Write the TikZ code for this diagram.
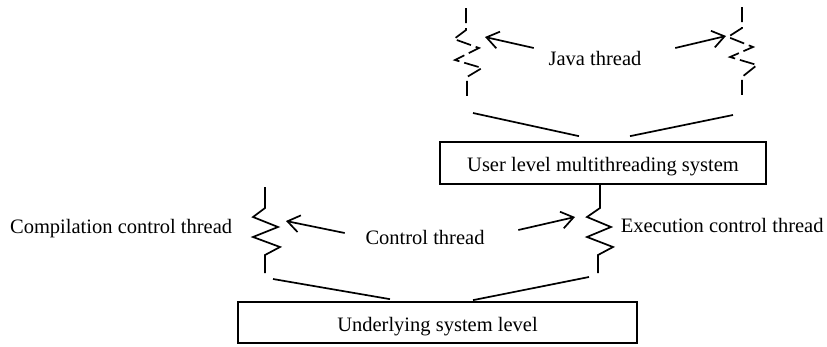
\documentclass[tikz,border=0pt]{standalone}
\usepackage{fontspec}
\setmainfont{Liberation Serif}
\usetikzlibrary{arrows.meta}

\begin{document}
\begin{tikzpicture}[x=1pt,y=-1pt,line width=1.7pt,
  lbl/.style={inner sep=0pt,font=\fontsize{20.5}{24}\selectfont},
  sysbox/.style={draw,lbl,text height=18pt,text depth=0.6pt},
  ptr/.style={-{Straight Barb[length=12pt,width=17pt]}},
  jdash/.style={dash pattern=on 15pt off 5pt}]
\useasboundingbox (0,0) rectangle (827,346);
% boxes
\node [sysbox,minimum width=326pt,minimum height=42pt] (uls) at (603,163) {User level multithreading system};
\node [sysbox,minimum width=399pt,minimum height=41pt] (usl) at (437.5,322.5) {Underlying system level};
% java threads
\draw [jdash] (466,8) -- (466,30) -- (454,39) coordinate (jl-tip) -- (479,48) -- (455,60) -- (482,68) -- (467,77) -- (467,97) coordinate (jl-end);
\draw [jdash] (742,7) -- (742,28) -- (728,37) coordinate (jr-tip) -- (753,47) -- (730,57) -- (757,65) -- (742,77) -- (742,95) coordinate (jr-end);
% control threads
\draw (265,187) -- (265,208) -- (253,217) -- (278,227) coordinate (cl-tip) -- (253,237) -- (280,247) -- (265,255) -- (265,273) coordinate (cl-end);
\draw (uls.south -| 600,0) -- (600,208) -- (587,217) coordinate (cr-tip) -- (611,227) -- (587,237) -- (613,247) -- (598,255) -- (598,273) coordinate (cr-end);
% labels
\node [lbl,anchor=base] (jt) at (595,65) {Java thread};
\node [lbl,anchor=base] (ct) at (425,244) {Control thread};
\node [lbl,anchor=base east] (cct) at (233,233.3) {Compilation control thread};
\node [lbl,anchor=base west] (ect) at (620,232) {Execution control thread};
% arrows
\draw [ptr] ([shift={(-14,-10)}]jt.west) -- ([shift={(31,-2)}]jl-tip);
\draw [ptr] ([shift={(33,-10)}]jt.east) -- ([shift={(-2,-1)}]jr-tip);
\draw [ptr] ([shift={(-20,-4)}]ct.west) -- ([shift={(8,-6)}]cl-tip);
\draw [ptr] ([shift={(33,-7)}]ct.east) -- ([shift={(-12,0)}]cr-tip);
% links to the boxes
\draw ([shift={(6,16)}]jl-end) -- ([shift={(-24,-5)}]uls.north);
\draw ([shift={(27,-5)}]uls.north) -- ([shift={(-9,20)}]jr-end);
\draw ([shift={(8,6)}]cl-end) -- ([shift={(-47.5,-2)}]usl.north);
\draw ([shift={(35.5,-1)}]usl.north) -- ([shift={(-9,4)}]cr-end);
\end{tikzpicture}
\end{document}
